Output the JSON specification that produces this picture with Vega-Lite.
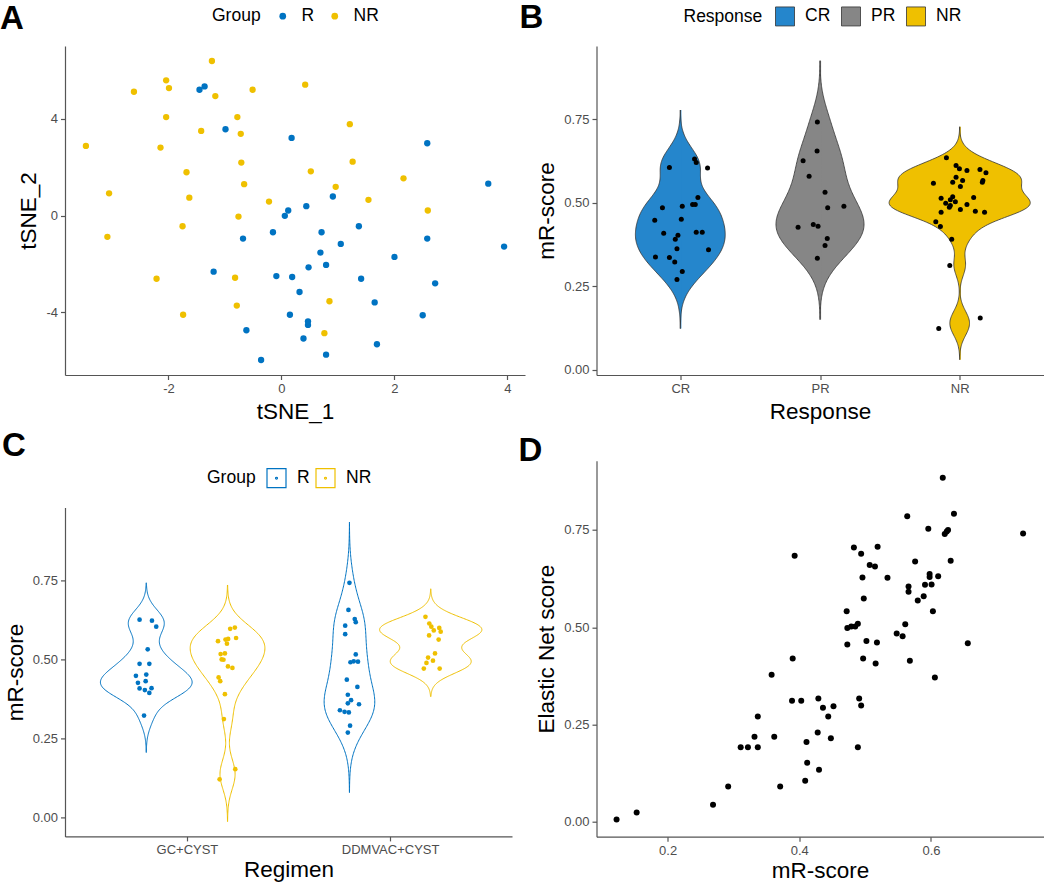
{
"$schema": "https://vega.github.io/schema/vega-lite/v6.json",
"background": "white",
"padding": {"left": 0, "top": 2, "right": 0, "bottom": 0},
"datasets": {
"ptsA": [
{"Group":"R","tSNE_1":-1.45,"tSNE_2":5.20},{"Group":"R","tSNE_1":-1.36,"tSNE_2":5.34},{"Group":"R","tSNE_1":-0.99,"tSNE_2":3.57},{"Group":"R","tSNE_1":0.18,"tSNE_2":3.21},{"Group":"R","tSNE_1":2.58,"tSNE_2":2.99},{"Group":"R","tSNE_1":3.66,"tSNE_2":1.32},{"Group":"R","tSNE_1":0.91,"tSNE_2":0.79},{"Group":"R","tSNE_1":0.44,"tSNE_2":0.39},{"Group":"R","tSNE_1":0.12,"tSNE_2":0.21},{"Group":"R","tSNE_1":0.06,"tSNE_2":-0.01},{"Group":"R","tSNE_1":-0.15,"tSNE_2":-0.69},{"Group":"R","tSNE_1":-0.68,"tSNE_2":-0.95},{"Group":"R","tSNE_1":0.71,"tSNE_2":-0.69},{"Group":"R","tSNE_1":1.37,"tSNE_2":-0.44},{"Group":"R","tSNE_1":1.05,"tSNE_2":-1.17},{"Group":"R","tSNE_1":2.58,"tSNE_2":-0.95},{"Group":"R","tSNE_1":3.94,"tSNE_2":-1.28},{"Group":"R","tSNE_1":0.69,"tSNE_2":-1.53},{"Group":"R","tSNE_1":0.79,"tSNE_2":-2.04},{"Group":"R","tSNE_1":0.48,"tSNE_2":-2.14},{"Group":"R","tSNE_1":2.0,"tSNE_2":-1.71},{"Group":"R","tSNE_1":-1.20,"tSNE_2":-2.32},{"Group":"R","tSNE_1":-0.09,"tSNE_2":-2.50},{"Group":"R","tSNE_1":0.19,"tSNE_2":-2.54},{"Group":"R","tSNE_1":1.41,"tSNE_2":-2.61},{"Group":"R","tSNE_1":2.72,"tSNE_2":-2.80},{"Group":"R","tSNE_1":0.32,"tSNE_2":-3.16},{"Group":"R","tSNE_1":1.65,"tSNE_2":-3.59},{"Group":"R","tSNE_1":0.15,"tSNE_2":-4.10},{"Group":"R","tSNE_1":0.47,"tSNE_2":-4.37},{"Group":"R","tSNE_1":0.47,"tSNE_2":-4.52},{"Group":"R","tSNE_1":2.50,"tSNE_2":-4.12},{"Group":"R","tSNE_1":-0.62,"tSNE_2":-4.74},{"Group":"R","tSNE_1":0.39,"tSNE_2":-5.08},{"Group":"R","tSNE_1":1.69,"tSNE_2":-5.32},{"Group":"R","tSNE_1":0.79,"tSNE_2":-5.75},{"Group":"R","tSNE_1":-0.36,"tSNE_2":-5.97},
{"Group":"NR","tSNE_1":-1.23,"tSNE_2":6.39},{"Group":"NR","tSNE_1":-2.04,"tSNE_2":5.59},{"Group":"NR","tSNE_1":-1.99,"tSNE_2":5.27},{"Group":"NR","tSNE_1":-2.61,"tSNE_2":5.12},{"Group":"NR","tSNE_1":-1.17,"tSNE_2":4.94},{"Group":"NR","tSNE_1":-0.51,"tSNE_2":5.20},{"Group":"NR","tSNE_1":0.42,"tSNE_2":5.41},{"Group":"NR","tSNE_1":-2.04,"tSNE_2":4.07},{"Group":"NR","tSNE_1":-0.78,"tSNE_2":4.07},{"Group":"NR","tSNE_1":-1.42,"tSNE_2":3.50},{"Group":"NR","tSNE_1":-0.72,"tSNE_2":3.38},{"Group":"NR","tSNE_1":-3.46,"tSNE_2":2.88},{"Group":"NR","tSNE_1":-2.14,"tSNE_2":2.81},{"Group":"NR","tSNE_1":1.21,"tSNE_2":3.78},{"Group":"NR","tSNE_1":-0.71,"tSNE_2":2.19},{"Group":"NR","tSNE_1":1.26,"tSNE_2":2.23},{"Group":"NR","tSNE_1":-1.68,"tSNE_2":1.79},{"Group":"NR","tSNE_1":0.52,"tSNE_2":1.83},{"Group":"NR","tSNE_1":2.16,"tSNE_2":1.54},{"Group":"NR","tSNE_1":-0.66,"tSNE_2":1.30},{"Group":"NR","tSNE_1":0.96,"tSNE_2":1.19},{"Group":"NR","tSNE_1":-3.05,"tSNE_2":0.92},{"Group":"NR","tSNE_1":-1.63,"tSNE_2":0.74},{"Group":"NR","tSNE_1":-0.22,"tSNE_2":0.58},{"Group":"NR","tSNE_1":1.54,"tSNE_2":0.65},{"Group":"NR","tSNE_1":2.59,"tSNE_2":0.21},{"Group":"NR","tSNE_1":-0.76,"tSNE_2":-0.04},{"Group":"NR","tSNE_1":-1.75,"tSNE_2":-0.44},{"Group":"NR","tSNE_1":-3.08,"tSNE_2":-0.88},{"Group":"NR","tSNE_1":-2.21,"tSNE_2":-2.61},{"Group":"NR","tSNE_1":-0.82,"tSNE_2":-2.57},{"Group":"NR","tSNE_1":-0.79,"tSNE_2":-3.72},{"Group":"NR","tSNE_1":-1.74,"tSNE_2":-4.10},{"Group":"NR","tSNE_1":0.85,"tSNE_2":-3.54},{"Group":"NR","tSNE_1":0.76,"tSNE_2":-4.86}
],
"ptsB": [
{"Response":"CR","mR":0.606,"jitter":-0.078},{"Response":"CR","mR":0.631,"jitter":0.102},{"Response":"CR","mR":0.621,"jitter":0.114},{"Response":"CR","mR":0.604,"jitter":0.195},{"Response":"CR","mR":0.485,"jitter":-0.128},{"Response":"CR","mR":0.490,"jitter":0.014},{"Response":"CR","mR":0.495,"jitter":0.088},{"Response":"CR","mR":0.495,"jitter":0.107},{"Response":"CR","mR":0.516,"jitter":0.126},{"Response":"CR","mR":0.448,"jitter":-0.183},{"Response":"CR","mR":0.451,"jitter":0.007},{"Response":"CR","mR":0.409,"jitter":-0.119},{"Response":"CR","mR":0.403,"jitter":-0.017},{"Response":"CR","mR":0.391,"jitter":-0.036},{"Response":"CR","mR":0.412,"jitter":0.114},{"Response":"CR","mR":0.412,"jitter":0.157},{"Response":"CR","mR":0.362,"jitter":-0.024},{"Response":"CR","mR":0.359,"jitter":0.202},{"Response":"CR","mR":0.338,"jitter":-0.178},{"Response":"CR","mR":0.336,"jitter":-0.078},{"Response":"CR","mR":0.323,"jitter":-0.040},{"Response":"CR","mR":0.294,"jitter":0.014},{"Response":"CR","mR":0.270,"jitter":-0.024},
{"Response":"PR","mR":0.742,"jitter":-0.019},{"Response":"PR","mR":0.655,"jitter":-0.021},{"Response":"PR","mR":0.626,"jitter":-0.121},{"Response":"PR","mR":0.580,"jitter":-0.078},{"Response":"PR","mR":0.532,"jitter":0.036},{"Response":"PR","mR":0.490,"jitter":0.171},{"Response":"PR","mR":0.485,"jitter":0.055},{"Response":"PR","mR":0.427,"jitter":-0.157},{"Response":"PR","mR":0.435,"jitter":-0.048},{"Response":"PR","mR":0.430,"jitter":-0.014},{"Response":"PR","mR":0.393,"jitter":0.052},{"Response":"PR","mR":0.372,"jitter":0.036},{"Response":"PR","mR":0.334,"jitter":-0.019},
{"Response":"NR","mR":0.635,"jitter":-0.095},{"Response":"NR","mR":0.612,"jitter":-0.026},{"Response":"NR","mR":0.602,"jitter":-0.002},{"Response":"NR","mR":0.597,"jitter":0.052},{"Response":"NR","mR":0.600,"jitter":0.145},{"Response":"NR","mR":0.590,"jitter":0.188},{"Response":"NR","mR":0.559,"jitter":-0.188},{"Response":"NR","mR":0.577,"jitter":-0.026},{"Response":"NR","mR":0.562,"jitter":-0.050},{"Response":"NR","mR":0.567,"jitter":0.021},{"Response":"NR","mR":0.549,"jitter":0.005},{"Response":"NR","mR":0.567,"jitter":0.166},{"Response":"NR","mR":0.562,"jitter":0.162},{"Response":"NR","mR":0.514,"jitter":-0.133},{"Response":"NR","mR":0.518,"jitter":-0.050},{"Response":"NR","mR":0.509,"jitter":-0.067},{"Response":"NR","mR":0.499,"jitter":-0.100},{"Response":"NR","mR":0.503,"jitter":-0.031},{"Response":"NR","mR":0.516,"jitter":0.100},{"Response":"NR","mR":0.495,"jitter":0.052},{"Response":"NR","mR":0.492,"jitter":-0.067},{"Response":"NR","mR":0.487,"jitter":-0.074},{"Response":"NR","mR":0.480,"jitter":0.005},{"Response":"NR","mR":0.475,"jitter":0.112},{"Response":"NR","mR":0.472,"jitter":0.178},{"Response":"NR","mR":0.472,"jitter":-0.133},{"Response":"NR","mR":0.443,"jitter":-0.171},{"Response":"NR","mR":0.429,"jitter":-0.138},{"Response":"NR","mR":0.391,"jitter":-0.057},{"Response":"NR","mR":0.312,"jitter":-0.071},{"Response":"NR","mR":0.123,"jitter":-0.150},{"Response":"NR","mR":0.155,"jitter":0.147}
],
"ptsC": [
{"Regimen":"GC+CYST","Group":"R","mR":0.627,"jitter":-0.033},{"Regimen":"GC+CYST","Group":"R","mR":0.624,"jitter":0.028},{"Regimen":"GC+CYST","Group":"R","mR":0.605,"jitter":0.049},{"Regimen":"GC+CYST","Group":"R","mR":0.533,"jitter":0.007},{"Regimen":"GC+CYST","Group":"R","mR":0.487,"jitter":-0.033},{"Regimen":"GC+CYST","Group":"R","mR":0.487,"jitter":0.015},{"Regimen":"GC+CYST","Group":"R","mR":0.449,"jitter":-0.051},{"Regimen":"GC+CYST","Group":"R","mR":0.453,"jitter":0.0},{"Regimen":"GC+CYST","Group":"R","mR":0.427,"jitter":-0.041},{"Regimen":"GC+CYST","Group":"R","mR":0.432,"jitter":-0.003},{"Regimen":"GC+CYST","Group":"R","mR":0.409,"jitter":-0.033},{"Regimen":"GC+CYST","Group":"R","mR":0.404,"jitter":-0.007},{"Regimen":"GC+CYST","Group":"R","mR":0.410,"jitter":0.026},{"Regimen":"GC+CYST","Group":"R","mR":0.395,"jitter":0.015},{"Regimen":"GC+CYST","Group":"R","mR":0.323,"jitter":-0.011},
{"Regimen":"GC+CYST","Group":"NR","mR":0.598,"jitter":0.013},{"Regimen":"GC+CYST","Group":"NR","mR":0.602,"jitter":0.036},{"Regimen":"GC+CYST","Group":"NR","mR":0.559,"jitter":-0.047},{"Regimen":"GC+CYST","Group":"NR","mR":0.564,"jitter":-0.010},{"Regimen":"GC+CYST","Group":"NR","mR":0.566,"jitter":0.003},{"Regimen":"GC+CYST","Group":"NR","mR":0.569,"jitter":0.042},{"Regimen":"GC+CYST","Group":"NR","mR":0.551,"jitter":-0.003},{"Regimen":"GC+CYST","Group":"NR","mR":0.518,"jitter":-0.034},{"Regimen":"GC+CYST","Group":"NR","mR":0.520,"jitter":-0.013},{"Regimen":"GC+CYST","Group":"NR","mR":0.501,"jitter":-0.029},{"Regimen":"GC+CYST","Group":"NR","mR":0.500,"jitter":-0.020},{"Regimen":"GC+CYST","Group":"NR","mR":0.479,"jitter":0.002},{"Regimen":"GC+CYST","Group":"NR","mR":0.474,"jitter":0.024},{"Regimen":"GC+CYST","Group":"NR","mR":0.444,"jitter":-0.044},{"Regimen":"GC+CYST","Group":"NR","mR":0.432,"jitter":-0.036},{"Regimen":"GC+CYST","Group":"NR","mR":0.391,"jitter":-0.013},{"Regimen":"GC+CYST","Group":"NR","mR":0.312,"jitter":-0.018},{"Regimen":"GC+CYST","Group":"NR","mR":0.153,"jitter":0.038},{"Regimen":"GC+CYST","Group":"NR","mR":0.121,"jitter":-0.039},
{"Regimen":"DDMVAC+CYST","Group":"R","mR":0.744,"jitter":0.0},{"Regimen":"DDMVAC+CYST","Group":"R","mR":0.658,"jitter":-0.005},{"Regimen":"DDMVAC+CYST","Group":"R","mR":0.608,"jitter":-0.021},{"Regimen":"DDMVAC+CYST","Group":"R","mR":0.629,"jitter":0.026},{"Regimen":"DDMVAC+CYST","Group":"R","mR":0.619,"jitter":0.031},{"Regimen":"DDMVAC+CYST","Group":"R","mR":0.581,"jitter":-0.021},{"Regimen":"DDMVAC+CYST","Group":"R","mR":0.517,"jitter":0.031},{"Regimen":"DDMVAC+CYST","Group":"R","mR":0.492,"jitter":0.005},{"Regimen":"DDMVAC+CYST","Group":"R","mR":0.495,"jitter":0.021},{"Regimen":"DDMVAC+CYST","Group":"R","mR":0.494,"jitter":0.042},{"Regimen":"DDMVAC+CYST","Group":"R","mR":0.437,"jitter":-0.013},{"Regimen":"DDMVAC+CYST","Group":"R","mR":0.414,"jitter":0.039},{"Regimen":"DDMVAC+CYST","Group":"R","mR":0.389,"jitter":-0.008},{"Regimen":"DDMVAC+CYST","Group":"R","mR":0.372,"jitter":0.008},{"Regimen":"DDMVAC+CYST","Group":"R","mR":0.362,"jitter":-0.008},{"Regimen":"DDMVAC+CYST","Group":"R","mR":0.359,"jitter":0.047},{"Regimen":"DDMVAC+CYST","Group":"R","mR":0.340,"jitter":-0.047},{"Regimen":"DDMVAC+CYST","Group":"R","mR":0.335,"jitter":-0.024},{"Regimen":"DDMVAC+CYST","Group":"R","mR":0.333,"jitter":-0.003},{"Regimen":"DDMVAC+CYST","Group":"R","mR":0.291,"jitter":0.003},{"Regimen":"DDMVAC+CYST","Group":"R","mR":0.269,"jitter":-0.008},
{"Regimen":"DDMVAC+CYST","Group":"NR","mR":0.636,"jitter":-0.026},{"Regimen":"DDMVAC+CYST","Group":"NR","mR":0.615,"jitter":-0.007},{"Regimen":"DDMVAC+CYST","Group":"NR","mR":0.605,"jitter":0.003},{"Regimen":"DDMVAC+CYST","Group":"NR","mR":0.593,"jitter":0.015},{"Regimen":"DDMVAC+CYST","Group":"NR","mR":0.601,"jitter":0.042},{"Regimen":"DDMVAC+CYST","Group":"NR","mR":0.589,"jitter":0.049},{"Regimen":"DDMVAC+CYST","Group":"NR","mR":0.577,"jitter":-0.008},{"Regimen":"DDMVAC+CYST","Group":"NR","mR":0.564,"jitter":0.039},{"Regimen":"DDMVAC+CYST","Group":"NR","mR":0.520,"jitter":0.021},{"Regimen":"DDMVAC+CYST","Group":"NR","mR":0.507,"jitter":-0.013},{"Regimen":"DDMVAC+CYST","Group":"NR","mR":0.490,"jitter":-0.021},{"Regimen":"DDMVAC+CYST","Group":"NR","mR":0.497,"jitter":0.011},{"Regimen":"DDMVAC+CYST","Group":"NR","mR":0.472,"jitter":-0.034},{"Regimen":"DDMVAC+CYST","Group":"NR","mR":0.472,"jitter":0.044}
],
"ptsD": [
{"mR":0.1225,"EN":0.006},{"mR":0.153,"EN":0.024},{"mR":0.269,"EN":0.044},{"mR":0.292,"EN":0.091},{"mR":0.311,"EN":0.192},{"mR":0.322,"EN":0.192},{"mR":0.337,"EN":0.192},{"mR":0.332,"EN":0.219},{"mR":0.337,"EN":0.271},{"mR":0.362,"EN":0.219},{"mR":0.358,"EN":0.378},{"mR":0.371,"EN":0.091},{"mR":0.390,"EN":0.420},{"mR":0.389,"EN":0.311},{"mR":0.403,"EN":0.311},{"mR":0.393,"EN":0.684},{"mR":0.409,"EN":0.106},{"mR":0.412,"EN":0.152},{"mR":0.411,"EN":0.205},{"mR":0.430,"EN":0.134},{"mR":0.428,"EN":0.230},{"mR":0.429,"EN":0.317},{"mR":0.436,"EN":0.293},{"mR":0.444,"EN":0.271},{"mR":0.448,"EN":0.215},{"mR":0.452,"EN":0.297},{"mR":0.472,"EN":0.541},{"mR":0.473,"EN":0.498},{"mR":0.473,"EN":0.456},{"mR":0.479,"EN":0.502},{"mR":0.483,"EN":0.705},{"mR":0.485,"EN":0.502},{"mR":0.489,"EN":0.509},{"mR":0.489,"EN":0.192},{"mR":0.491,"EN":0.317},{"mR":0.494,"EN":0.299},{"mR":0.494,"EN":0.689},{"mR":0.496,"EN":0.628},{"mR":0.498,"EN":0.574},{"mR":0.497,"EN":0.420},{"mR":0.502,"EN":0.465},{"mR":0.507,"EN":0.660},{"mR":0.515,"EN":0.656},{"mR":0.516,"EN":0.407},{"mR":0.518,"EN":0.461},{"mR":0.519,"EN":0.707},{"mR":0.534,"EN":0.627},{"mR":0.548,"EN":0.484},{"mR":0.557,"EN":0.477},{"mR":0.561,"EN":0.508},{"mR":0.564,"EN":0.785},{"mR":0.566,"EN":0.605},{"mR":0.566,"EN":0.591},{"mR":0.568,"EN":0.414},{"mR":0.576,"EN":0.669},{"mR":0.580,"EN":0.569},{"mR":0.589,"EN":0.580},{"mR":0.591,"EN":0.609},{"mR":0.596,"EN":0.753},{"mR":0.598,"EN":0.637},{"mR":0.598,"EN":0.629},{"mR":0.601,"EN":0.610},{"mR":0.603,"EN":0.541},{"mR":0.606,"EN":0.371},{"mR":0.611,"EN":0.631},{"mR":0.618,"EN":0.884},{"mR":0.621,"EN":0.740},{"mR":0.624,"EN":0.746},{"mR":0.626,"EN":0.750},{"mR":0.630,"EN":0.671},{"mR":0.635,"EN":0.792},{"mR":0.656,"EN":0.459},{"mR":0.740,"EN":0.741}
]
},
"hconcat": [
{
"vconcat": [
{
"width": 460, "height": 329,
"title": {"text": "A", "dx": -65, "dy": 33},
"data": {"name": "ptsA"},
"mark": {"type": "circle", "size": 40, "opacity": 1},
"encoding": {
"x": {"field": "tSNE_1", "type": "quantitative", "title": "tSNE_1", "scale": {"domain": [-3.83, 4.31], "nice": false, "zero": false}, "axis": {"values": [-2, 0, 2, 4], "labelExpr": "'' + datum.value"}},
"y": {"field": "tSNE_2", "type": "quantitative", "title": "tSNE_2", "scale": {"domain": [-6.59, 7.01], "nice": false, "zero": false}, "axis": {"values": [-4, 0, 4], "labelExpr": "'' + datum.value"}},
"color": {"field": "Group", "type": "nominal", "scale": {"domain": ["R", "NR"], "range": ["#0073C2", "#EFC000"]},
"legend": {"title": "Group", "orient": "none", "legendX": 147, "legendY": -39, "direction": "horizontal", "titleOrient": "left", "symbolType": "circle", "symbolSize": 45, "labelOffset": 10, "columnPadding": 11, "titlePadding": 13, "padding": 0}}
}
},
{
"width": 447, "height": 329,
"title": {"text": "C", "dx": -63, "dy": 0},
"data": {"name": "ptsC"},
"encoding": {"y": {"field": "mR", "type": "quantitative", "title": "mR-score", "scale": {"domain": [-0.06, 0.983], "nice": false, "zero": false}, "axis": {"values": [0, 0.25, 0.5, 0.75], "format": ".2f"}}},
"layer": [
{"transform": [{"filter": "datum.Regimen === 'GC+CYST' && datum.Group === 'R'"}, {"density": "mR", "groupby": ["Group"], "bandwidth": 0.039, "extent": [0.206, 0.744], "steps": 200, "as": ["mR", "density"]}],
 "mark": {"type": "line", "strokeWidth": 1},
 "encoding": {"x": {"field": "density", "type": "quantitative", "scale": {"domain": [-9.28, 41.76], "nice": false, "zero": false}, "axis": null}, "order": {"field": "mR", "type": "quantitative"},
  "stroke": {"field": "Group", "type": "nominal", "scale": {"domain": ["R", "NR"], "range": ["#0073C2", "#EFC000"]}, "legend": {"title": "Group", "orient": "none", "legendX": 142, "legendY": -40, "direction": "horizontal", "titleOrient": "left", "symbolType": "M-1,-1H1V1H-1Z M-0.1,0A0.1,0.1 0 1,0 0.1,0A0.1,0.1 0 1,0 -0.1,0", "symbolSize": 361, "symbolStrokeWidth": 1.2, "labelOffset": 10, "columnPadding": 3, "titlePadding": 10, "padding": 0}}}},
{"transform": [{"filter": "datum.Regimen === 'GC+CYST' && datum.Group === 'R'"}, {"density": "mR", "groupby": ["Group"], "bandwidth": 0.039, "extent": [0.206, 0.744], "steps": 200, "as": ["mR", "density"]}],
 "mark": {"type": "line", "strokeWidth": 1},
 "encoding": {"x": {"field": "density", "type": "quantitative", "scale": {"domain": [-41.76, 9.28], "reverse": true, "nice": false, "zero": false}, "axis": null}, "order": {"field": "mR", "type": "quantitative"},
  "stroke": {"field": "Group", "type": "nominal"}}},
{"transform": [{"filter": "datum.Regimen === 'GC+CYST' && datum.Group === 'NR'"}, {"density": "mR", "groupby": ["Group"], "bandwidth": 0.045, "extent": [-0.013, 0.737], "steps": 200, "as": ["mR", "density"]}],
 "mark": {"type": "line", "strokeWidth": 1},
 "encoding": {"x": {"field": "density", "type": "quantitative", "scale": {"domain": [-18.88, 33.04], "nice": false, "zero": false}, "axis": null}, "order": {"field": "mR", "type": "quantitative"},
  "stroke": {"field": "Group", "type": "nominal"}}},
{"transform": [{"filter": "datum.Regimen === 'GC+CYST' && datum.Group === 'NR'"}, {"density": "mR", "groupby": ["Group"], "bandwidth": 0.045, "extent": [-0.013, 0.737], "steps": 200, "as": ["mR", "density"]}],
 "mark": {"type": "line", "strokeWidth": 1},
 "encoding": {"x": {"field": "density", "type": "quantitative", "scale": {"domain": [-33.04, 18.88], "reverse": true, "nice": false, "zero": false}, "axis": null}, "order": {"field": "mR", "type": "quantitative"},
  "stroke": {"field": "Group", "type": "nominal"}}},
{"transform": [{"filter": "datum.Regimen === 'DDMVAC+CYST' && datum.Group === 'R'"}, {"density": "mR", "groupby": ["Group"], "bandwidth": 0.0635, "extent": [0.079, 0.936], "steps": 200, "as": ["mR", "density"]}],
 "mark": {"type": "line", "strokeWidth": 1},
 "encoding": {"x": {"field": "density", "type": "quantitative", "scale": {"domain": [-30.8, 17.6], "nice": false, "zero": false}, "axis": null}, "order": {"field": "mR", "type": "quantitative"},
  "stroke": {"field": "Group", "type": "nominal"}}},
{"transform": [{"filter": "datum.Regimen === 'DDMVAC+CYST' && datum.Group === 'R'"}, {"density": "mR", "groupby": ["Group"], "bandwidth": 0.0635, "extent": [0.079, 0.936], "steps": 200, "as": ["mR", "density"]}],
 "mark": {"type": "line", "strokeWidth": 1},
 "encoding": {"x": {"field": "density", "type": "quantitative", "scale": {"domain": [-17.6, 30.8], "reverse": true, "nice": false, "zero": false}, "axis": null}, "order": {"field": "mR", "type": "quantitative"},
  "stroke": {"field": "Group", "type": "nominal"}}},
{"transform": [{"filter": "datum.Regimen === 'DDMVAC+CYST' && datum.Group === 'NR'"}, {"density": "mR", "groupby": ["Group"], "bandwidth": 0.0297, "extent": [0.383, 0.725], "steps": 200, "as": ["mR", "density"]}],
 "mark": {"type": "line", "strokeWidth": 1},
 "encoding": {"x": {"field": "density", "type": "quantitative", "scale": {"domain": [-45, 10], "nice": false, "zero": false}, "axis": null}, "order": {"field": "mR", "type": "quantitative"},
  "stroke": {"field": "Group", "type": "nominal"}}},
{"transform": [{"filter": "datum.Regimen === 'DDMVAC+CYST' && datum.Group === 'NR'"}, {"density": "mR", "groupby": ["Group"], "bandwidth": 0.0297, "extent": [0.383, 0.725], "steps": 200, "as": ["mR", "density"]}],
 "mark": {"type": "line", "strokeWidth": 1},
 "encoding": {"x": {"field": "density", "type": "quantitative", "scale": {"domain": [-10, 45], "reverse": true, "nice": false, "zero": false}, "axis": null}, "order": {"field": "mR", "type": "quantitative"},
  "stroke": {"field": "Group", "type": "nominal"}}},
{"transform": [{"filter": "datum.Regimen === 'GC+CYST' && datum.Group === 'R'"}],
 "mark": {"type": "circle", "size": 22, "opacity": 1, "color": "#0073C2"},
 "encoding": {"x": {"field": "jitter", "type": "quantitative", "title": "Regimen", "scale": {"domain": [-0.4, 1.8], "nice": false, "zero": false}, "axis": {"values": [0.2, 1.2], "titlePadding": 2, "labelExpr": "datum.value < 0.7 ? 'GC+CYST' : 'DDMVAC+CYST'"}}}},
{"transform": [{"filter": "datum.Regimen === 'GC+CYST' && datum.Group === 'NR'"}],
 "mark": {"type": "circle", "size": 22, "opacity": 1, "color": "#EFC000"},
 "encoding": {"x": {"field": "jitter", "type": "quantitative", "scale": {"domain": [-0.8, 1.4], "nice": false, "zero": false}, "axis": null}}},
{"transform": [{"filter": "datum.Regimen === 'DDMVAC+CYST' && datum.Group === 'R'"}],
 "mark": {"type": "circle", "size": 22, "opacity": 1, "color": "#0073C2"},
 "encoding": {"x": {"field": "jitter", "type": "quantitative", "scale": {"domain": [-1.4, 0.8], "nice": false, "zero": false}, "axis": null}}},
{"transform": [{"filter": "datum.Regimen === 'DDMVAC+CYST' && datum.Group === 'NR'"}],
 "mark": {"type": "circle", "size": 22, "opacity": 1, "color": "#EFC000"},
 "encoding": {"x": {"field": "jitter", "type": "quantitative", "scale": {"domain": [-1.8, 0.4], "nice": false, "zero": false}, "axis": null}}}
],
"resolve": {"scale": {"x": "independent"}, "axis": {"x": "independent"}}
}
],
"spacing": 132.4,
"bounds": "flush",
"resolve": {"scale": {"color": "independent", "fill": "independent", "stroke": "independent", "x": "independent", "y": "independent"}}
},
{
"vconcat": [
{
"width": 447, "height": 329,
"title": {"text": "B", "dx": -77, "dy": 33},
"data": {"name": "ptsB"},
"encoding": {"y": {"field": "mR", "type": "quantitative", "title": "mR-score", "scale": {"domain": [-0.016, 0.97], "nice": false, "zero": false}, "axis": {"values": [0, 0.25, 0.5, 0.75], "format": ".2f"}}},
"layer": [
{"transform": [{"filter": "datum.Response === 'CR'"}, {"density": "mR", "groupby": ["Response"], "bandwidth": 0.049, "extent": [0.123, 0.778], "steps": 200, "as": ["mR", "density"]}],
 "mark": {"type": "area", "orient": "horizontal"},
 "encoding": {"x": {"field": "density", "type": "quantitative", "scale": {"domain": [-6.36, 27.56], "nice": false, "zero": false}, "axis": null}, "x2": {"datum": 0},
  "fill": {"field": "Response", "type": "nominal", "scale": {"domain": ["CR", "PR", "NR"], "range": ["#2586CC", "#868686", "#EFC000"]}, "legend": {"title": "Response", "orient": "none", "legendX": 87, "legendY": -40, "direction": "horizontal", "titleOrient": "left", "symbolType": "square", "symbolSize": 361, "symbolStrokeColor": "#333333", "symbolStrokeWidth": 0.8, "labelOffset": 10, "columnPadding": 8, "titlePadding": 12.5, "padding": 0}}}},
{"transform": [{"filter": "datum.Response === 'CR'"}, {"density": "mR", "groupby": ["Response"], "bandwidth": 0.049, "extent": [0.123, 0.778], "steps": 200, "as": ["mR", "density"]}],
 "mark": {"type": "area", "orient": "horizontal"},
 "encoding": {"x": {"field": "density", "type": "quantitative", "scale": {"domain": [-27.56, 6.36], "reverse": true, "nice": false, "zero": false}, "axis": null}, "x2": {"datum": -0.08},
  "fill": {"field": "Response", "type": "nominal"}}},
{"transform": [{"filter": "datum.Response === 'PR'"}, {"density": "mR", "groupby": ["Response"], "bandwidth": 0.0615, "extent": [0.15, 0.926], "steps": 200, "as": ["mR", "density"]}],
 "mark": {"type": "area", "orient": "horizontal"},
 "encoding": {"x": {"field": "density", "type": "quantitative", "scale": {"domain": [-16.16, 16.16], "nice": false, "zero": false}, "axis": null}, "x2": {"datum": 0},
  "fill": {"field": "Response", "type": "nominal"}}},
{"transform": [{"filter": "datum.Response === 'PR'"}, {"density": "mR", "groupby": ["Response"], "bandwidth": 0.0615, "extent": [0.15, 0.926], "steps": 200, "as": ["mR", "density"]}],
 "mark": {"type": "area", "orient": "horizontal"},
 "encoding": {"x": {"field": "density", "type": "quantitative", "scale": {"domain": [-16.16, 16.16], "reverse": true, "nice": false, "zero": false}, "axis": null}, "x2": {"datum": -0.08},
  "fill": {"field": "Response", "type": "nominal"}}},
{"transform": [{"filter": "datum.Response === 'NR'"}, {"density": "mR", "groupby": ["Response"], "bandwidth": 0.031, "extent": [0.03, 0.728], "steps": 200, "as": ["mR", "density"]}],
 "mark": {"type": "area", "orient": "horizontal"},
 "encoding": {"x": {"field": "density", "type": "quantitative", "scale": {"domain": [-26, 6], "nice": false, "zero": false}, "axis": null}, "x2": {"datum": 0},
  "fill": {"field": "Response", "type": "nominal"}}},
{"transform": [{"filter": "datum.Response === 'NR'"}, {"density": "mR", "groupby": ["Response"], "bandwidth": 0.031, "extent": [0.03, 0.728], "steps": 200, "as": ["mR", "density"]}],
 "mark": {"type": "area", "orient": "horizontal"},
 "encoding": {"x": {"field": "density", "type": "quantitative", "scale": {"domain": [-6, 26], "reverse": true, "nice": false, "zero": false}, "axis": null}, "x2": {"datum": -0.08},
  "fill": {"field": "Response", "type": "nominal"}}},
{"transform": [{"filter": "datum.Response === 'CR'"}, {"density": "mR", "bandwidth": 0.049, "extent": [0.123, 0.778], "steps": 200, "as": ["mR", "density"]}],
 "mark": {"type": "line", "stroke": "#333333", "strokeWidth": 0.8},
 "encoding": {"x": {"field": "density", "type": "quantitative", "scale": {"domain": [-6.36, 27.56], "nice": false, "zero": false}, "axis": null}, "order": {"field": "mR", "type": "quantitative"}}},
{"transform": [{"filter": "datum.Response === 'CR'"}, {"density": "mR", "bandwidth": 0.049, "extent": [0.123, 0.778], "steps": 200, "as": ["mR", "density"]}],
 "mark": {"type": "line", "stroke": "#333333", "strokeWidth": 0.8},
 "encoding": {"x": {"field": "density", "type": "quantitative", "scale": {"domain": [-27.56, 6.36], "reverse": true, "nice": false, "zero": false}, "axis": null}, "order": {"field": "mR", "type": "quantitative"}}},
{"transform": [{"filter": "datum.Response === 'PR'"}, {"density": "mR", "bandwidth": 0.0615, "extent": [0.15, 0.926], "steps": 200, "as": ["mR", "density"]}],
 "mark": {"type": "line", "stroke": "#333333", "strokeWidth": 0.8},
 "encoding": {"x": {"field": "density", "type": "quantitative", "scale": {"domain": [-16.16, 16.16], "nice": false, "zero": false}, "axis": null}, "order": {"field": "mR", "type": "quantitative"}}},
{"transform": [{"filter": "datum.Response === 'PR'"}, {"density": "mR", "bandwidth": 0.0615, "extent": [0.15, 0.926], "steps": 200, "as": ["mR", "density"]}],
 "mark": {"type": "line", "stroke": "#333333", "strokeWidth": 0.8},
 "encoding": {"x": {"field": "density", "type": "quantitative", "scale": {"domain": [-16.16, 16.16], "reverse": true, "nice": false, "zero": false}, "axis": null}, "order": {"field": "mR", "type": "quantitative"}}},
{"transform": [{"filter": "datum.Response === 'NR'"}, {"density": "mR", "bandwidth": 0.031, "extent": [0.03, 0.728], "steps": 200, "as": ["mR", "density"]}],
 "mark": {"type": "line", "stroke": "#333333", "strokeWidth": 0.8},
 "encoding": {"x": {"field": "density", "type": "quantitative", "scale": {"domain": [-26, 6], "nice": false, "zero": false}, "axis": null}, "order": {"field": "mR", "type": "quantitative"}}},
{"transform": [{"filter": "datum.Response === 'NR'"}, {"density": "mR", "bandwidth": 0.031, "extent": [0.03, 0.728], "steps": 200, "as": ["mR", "density"]}],
 "mark": {"type": "line", "stroke": "#333333", "strokeWidth": 0.8},
 "encoding": {"x": {"field": "density", "type": "quantitative", "scale": {"domain": [-6, 26], "reverse": true, "nice": false, "zero": false}, "axis": null}, "order": {"field": "mR", "type": "quantitative"}}},
{"transform": [{"filter": "datum.Response === 'CR'"}],
 "mark": {"type": "circle", "size": 25, "opacity": 1, "color": "black"},
 "encoding": {"x": {"field": "jitter", "type": "quantitative", "title": "Response", "scale": {"domain": [-0.6, 2.6], "nice": false, "zero": false}, "axis": {"values": [0, 1, 2], "labelExpr": "datum.value == 0 ? 'CR' : (datum.value == 1 ? 'PR' : 'NR')"}}}},
{"transform": [{"filter": "datum.Response === 'PR'"}],
 "mark": {"type": "circle", "size": 25, "opacity": 1, "color": "black"},
 "encoding": {"x": {"field": "jitter", "type": "quantitative", "scale": {"domain": [-1.6, 1.6], "nice": false, "zero": false}, "axis": null}}},
{"transform": [{"filter": "datum.Response === 'NR'"}],
 "mark": {"type": "circle", "size": 25, "opacity": 1, "color": "black"},
 "encoding": {"x": {"field": "jitter", "type": "quantitative", "scale": {"domain": [-2.6, 0.6], "nice": false, "zero": false}, "axis": null}}}
],
"resolve": {"scale": {"x": "independent"}, "axis": {"x": "independent"}}
},
{
"width": 447, "height": 376,
"title": {"text": "D", "dx": -78, "dy": 11},
"data": {"name": "ptsD"},
"mark": {"type": "circle", "size": 36, "opacity": 1, "color": "black"},
"encoding": {
"x": {"field": "mR", "type": "quantitative", "title": "mR-score", "scale": {"domain": [0.092, 0.771], "nice": false, "zero": false}, "axis": {"values": [0.2, 0.4, 0.6], "format": ".1f", "titlePadding": 2}},
"y": {"field": "EN", "type": "quantitative", "title": "Elastic Net score", "scale": {"domain": [-0.038, 0.928], "nice": false, "zero": false}, "axis": {"values": [0, 0.25, 0.5, 0.75], "format": ".2f"}}
}
}
],
"spacing": 85.7,
"bounds": "flush",
"resolve": {"scale": {"color": "independent", "fill": "independent", "stroke": "independent", "x": "independent", "y": "independent"}}
}
],
"spacing": -6.5,
"resolve": {"scale": {"color": "independent", "fill": "independent", "stroke": "independent", "x": "independent", "y": "independent"}},
"config": {
"font": "Liberation Sans",
"view": {"stroke": null},
"axis": {"grid": false, "domainColor": "#555555", "domainWidth": 1.2, "tickColor": "#555555", "tickWidth": 1.2, "tickSize": 4.5, "labelColor": "#4d4d4d", "labelFontSize": 13, "labelFont": "Liberation Sans", "labelPadding": 3, "titleFont": "Liberation Sans", "titleFontSize": 22.5, "titleFontWeight": "normal", "titleColor": "#000000", "titlePadding": 5},
"legend": {"labelFont": "Liberation Sans", "titleFont": "Liberation Sans", "labelFontSize": 17.5, "titleFontSize": 17.5, "titleFontWeight": "normal", "labelColor": "#000000", "titleColor": "#000000"},
"title": {"font": "Liberation Sans", "fontSize": 33, "fontWeight": "bold", "anchor": "start", "frame": "group", "offset": 0, "color": "#000000"}
}
}
